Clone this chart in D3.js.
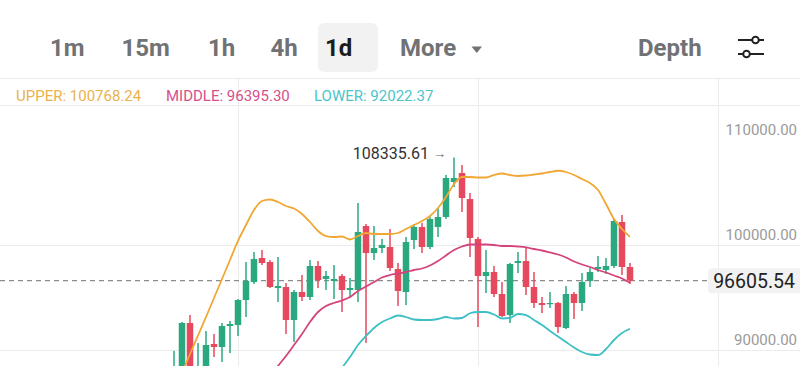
<!DOCTYPE html>
<html>
<head>
<meta charset="utf-8">
<script src="https://cdn.jsdelivr.net/npm/d3@7/dist/d3.min.js"></script>
<style>
  html, body { margin: 0; padding: 0; background: #fff; }
  svg { display: block; font-family: Roboto, "Noto Sans", sans-serif; }
</style>
</head>
<body>
<svg id="chart" width="800" height="366"></svg>
<script>
// ---- data ----
const intervals = ["1m", "15m", "1h", "4h", "1d", "More"];
const activeInterval = "1d";
const yTicks = [90000, 100000, 110000];
const gridTicks = [90000, 100000];
const lastPrice = 96605.54;
const bandLegend = { upper: 100768.24, middle: 96395.30, lower: 92022.37 };

const open = [86667, 87619, 92571, 87905, 88286, 90571, 90286, 92286, 92381, 94762,
  96476, 98762, 98381, 95905, 96000, 92857, 95524, 95048, 98000, 96762,
  96571, 97048, 95714, 95714, 101810, 99238, 99714, 99810, 97714, 95524,
  100476, 101714, 99810, 101714, 102667, 106000, 106857, 104381, 100571, 97048,
  97429, 95333, 93333, 98286, 98476, 96000, 94476, 94381, 94476, 92095,
  95333, 94476, 96571, 97714, 97619, 98000, 102190, 97905];
const high = [89905, 92667, 93333, 90667, 91810, 91524, 92571, 92762, 94857, 98381,
  99333, 99524, 98571, 98857, 96381, 95714, 97143, 98571, 98476, 97524,
  98095, 97238, 96857, 104000, 102000, 101810, 100571, 101524, 98286, 100762,
  102000, 102095, 102667, 103524, 106667, 108335.61, 107619, 104952, 100762, 99524,
  98000, 96476, 98286, 99333, 99810, 97429, 95048, 95524, 94571, 96095,
  95524, 97333, 97810, 98952, 98762, 102476, 102857, 98286];
const low = [86190, 86667, 87905, 87619, 87905, 89333, 88857, 89714, 91333, 93143,
  96286, 98095, 95905, 94571, 91524, 90762, 94667, 94762, 95905, 95714,
  94857, 93619, 94952, 94571, 90667, 98571, 99238, 97524, 94190, 94286,
  99619, 99238, 99619, 100762, 102476, 105524, 103143, 98857, 92190, 95429,
  95048, 93143, 92571, 97333, 95238, 94000, 93524, 94000, 91619, 92000,
  92952, 93714, 96000, 97429, 97238, 97810, 97143, 96286];
const close = [88095, 92571, 88286, 88381, 90476, 90286, 92286, 92476, 94762, 96571,
  98667, 98286, 96000, 96095, 92857, 95524, 95048, 98000, 96667, 97048,
  96762, 95714, 95905, 101238, 99238, 99714, 100000, 97810, 95619, 100286,
  101714, 99810, 102476, 102667, 106381, 106381, 104476, 100667, 97048, 97429,
  95333, 93238, 98190, 98476, 96000, 94476, 94286, 94476, 92190, 95333,
  94476, 96476, 97429, 97905, 98000, 102286, 97905, 96605.54];
const upper = [null, 87810, 89619, 91381, 93143, 94952, 96762, 98571, 100381, 101905,
  103333, 104190, 104333, 104095, 103714, 103476, 102952, 102190, 101333, 100857,
  100762, 100810, 100524, 100857, 101143, 101048, 101048, 101048, 101143, 101524,
  101905, 102286, 102762, 103524, 104571, 105810, 106476, 106476, 106429, 106429,
  106667, 106810, 106667, 106571, 106619, 106714, 106810, 106952, 107071, 106952,
  106667, 106286, 105905, 105238, 103905, 102476, 101524, 100768.24];
const middle = [null, null, null, null, null, null, null, null, null, null,
  null, null, 87429, 88476, 89429, 90476, 91524, 92667, 93619, 94190,
  94476, 94714, 95048, 95619, 96048, 96476, 96905, 97143, 97286, 97429,
  97619, 97762, 98048, 98476, 99000, 99524, 99857, 100048, 100048, 100048,
  100000, 99905, 99905, 99857, 99781, 99619, 99476, 99286, 99095, 98810,
  98429, 98143, 97905, 97619, 97381, 97095, 96810, 96395.30];
const lower = [null, null, null, null, null, null, null, null, null, null,
  null, null, null, null, null, null, null, null, null, null,
  87143, 88286, 89333, 90476, 91333, 92095, 92667, 93000, 93286, 93143,
  92905, 92857, 92857, 92952, 93143, 93000, 93048, 93500, 93619, 93619,
  93381, 93000, 93048, 93429, 93333, 92857, 92381, 91810, 91286, 90762,
  90238, 89810, 89571, 89524, 90095, 90952, 91619, 92022.37];
const vGridIdx = [8, 38, 68];

// ---- layout / style ----
const W = 800, H = 366;
const plot = { left: 0, right: 718, top: 105, bottom: 366 };
const GREEN = "#2aa87f", RED = "#e6485e";
const C_UP = "#f0a733", C_MID = "#d5437d", C_LOW = "#3dbfc6";
const GRID = "#ebebeb";

const svg = d3.select("#chart");
const n = close.length;
const x = d3.scaleLinear().domain([0, n - 1]).range([174, 630]);
const y = d3.scaleLinear().domain([90000, 100000]).range([350, 245]);

// ---- header tabs ----
const tabX = { "1m": 50, "15m": 121.5, "1h": 208, "4h": 270.5, "1d": 325, "More": 400 };
svg.append("rect").attr("x", 318).attr("y", 23).attr("width", 60).attr("height", 49)
  .attr("rx", 6).attr("fill", "#f2f2f2");
svg.selectAll("text.tab").data(intervals).join("text")
  .attr("class", "tab")
  .attr("x", d => tabX[d]).attr("y", 56)
  .attr("font-size", 24).attr("font-weight", 700)
  .attr("fill", d => d === activeInterval ? "#1c1c1c" : "#707274")
  .text(d => d);
svg.append("path").attr("d", "M471.5,46.5 L482,46.5 L476.75,53 Z").attr("fill", "#707274");
svg.append("text").attr("x", 638).attr("y", 56).attr("font-size", 24).attr("font-weight", 700)
  .attr("fill", "#707274").text("Depth");
// settings icon
const ic = svg.append("g").attr("stroke", "#222").attr("stroke-width", 2).attr("fill", "#fff");
ic.append("line").attr("x1", 738).attr("x2", 764).attr("y1", 40).attr("y2", 40);
ic.append("line").attr("x1", 738).attr("x2", 764).attr("y1", 54).attr("y2", 54);
ic.append("circle").attr("cx", 755.5).attr("cy", 40).attr("r", 3.3);
ic.append("circle").attr("cx", 746.5).attr("cy", 54).attr("r", 3.3);

// ---- grid ----
svg.append("line").attr("x1", 0).attr("x2", W).attr("y1", 78.5).attr("y2", 78.5).attr("stroke", GRID);
svg.append("line").attr("x1", 0).attr("x2", W).attr("y1", 105.5).attr("y2", 105.5).attr("stroke", GRID);
svg.selectAll("line.hg").data(gridTicks).join("line").attr("class", "hg")
  .attr("x1", 0).attr("x2", W)
  .attr("y1", d => Math.round(y(d)) + 0.5).attr("y2", d => Math.round(y(d)) + 0.5)
  .attr("stroke", GRID);
svg.selectAll("line.vg").data(vGridIdx).join("line").attr("class", "vg")
  .attr("x1", d => Math.round(x(d)) + 0.5).attr("x2", d => Math.round(x(d)) + 0.5)
  .attr("y1", 78).attr("y2", H).attr("stroke", GRID);

// ---- legend ----
const leg = svg.append("text").attr("y", 101).attr("font-size", 15);
leg.append("tspan").attr("x", 16).attr("fill", "#e9b24c").text("UPPER: " + bandLegend.upper.toFixed(2));
leg.append("tspan").attr("x", 166).attr("fill", "#d6508a").text("MIDDLE: " + bandLegend.middle.toFixed(2));
leg.append("tspan").attr("x", 314).attr("fill", "#4cc5c8").text("LOWER: " + bandLegend.lower.toFixed(2));

// ---- y axis labels ----
svg.selectAll("text.yl").data(yTicks).join("text").attr("class", "yl")
  .attr("x", 797).attr("y", d => y(d) - 5)
  .attr("text-anchor", "end").attr("font-size", 15).attr("fill", "#9a9a9a")
  .text(d => d3.format(".2f")(d));

// ---- plot ----
svg.append("clipPath").attr("id", "clip").append("rect")
  .attr("x", plot.left).attr("y", plot.top).attr("width", plot.right - plot.left)
  .attr("height", plot.bottom - plot.top);
const g = svg.append("g").attr("clip-path", "url(#clip)");

// last price dashed line
g.append("line").attr("x1", 0).attr("x2", 708)
  .attr("y1", y(lastPrice)).attr("y2", y(lastPrice))
  .attr("stroke", "#8c8c8c").attr("stroke-width", 1.3).attr("stroke-dasharray", "5,4");

const idx = d3.range(n);
const bw = 6.5;
const cg = g.append("g");
cg.selectAll("line.wick").data(idx).join("line").attr("class", "wick")
  .attr("x1", i => x(i)).attr("x2", i => x(i))
  .attr("y1", i => y(high[i])).attr("y2", i => y(low[i]))
  .attr("stroke", i => close[i] >= open[i] ? GREEN : RED).attr("stroke-width", 1.5);
cg.selectAll("rect.body").data(idx).join("rect").attr("class", "body")
  .attr("x", i => x(i) - bw / 2).attr("width", bw)
  .attr("y", i => y(Math.max(open[i], close[i])))
  .attr("height", i => Math.max(1.2, Math.abs(y(open[i]) - y(close[i]))))
  .attr("fill", i => close[i] >= open[i] ? GREEN : RED);

function band(arr, color) {
  const line = d3.line().defined(i => arr[i] != null)
    .x(i => x(i)).y(i => y(arr[i])).curve(d3.curveMonotoneX);
  g.append("path").attr("d", line(idx)).attr("fill", "none")
    .attr("stroke", color).attr("stroke-width", 1.8);
}
band(upper, C_UP);
band(middle, C_MID);
band(lower, C_LOW);

// max annotation
const iMax = d3.maxIndex(high);
svg.append("text").attr("x", x(iMax) - 25).attr("y", y(high[iMax]) + 1.5)
  .attr("text-anchor", "end").attr("font-size", 16).attr("fill", "#333")
  .text(high[iMax].toFixed(2));
svg.append("text").attr("x", x(iMax) - 21).attr("y", y(high[iMax]) + 1)
  .attr("font-size", 13).attr("fill", "#666").text("→");

// last price tag
svg.append("rect").attr("x", 708).attr("y", y(lastPrice) - 12.5).attr("width", 95).attr("height", 25)
  .attr("rx", 4).attr("fill", "#f2f2f2");
svg.append("text").attr("x", 795).attr("y", y(lastPrice) + 7)
  .attr("text-anchor", "end").attr("font-size", 19.5).attr("fill", "#222")
  .text(lastPrice.toFixed(2));
</script>
</body>
</html>
